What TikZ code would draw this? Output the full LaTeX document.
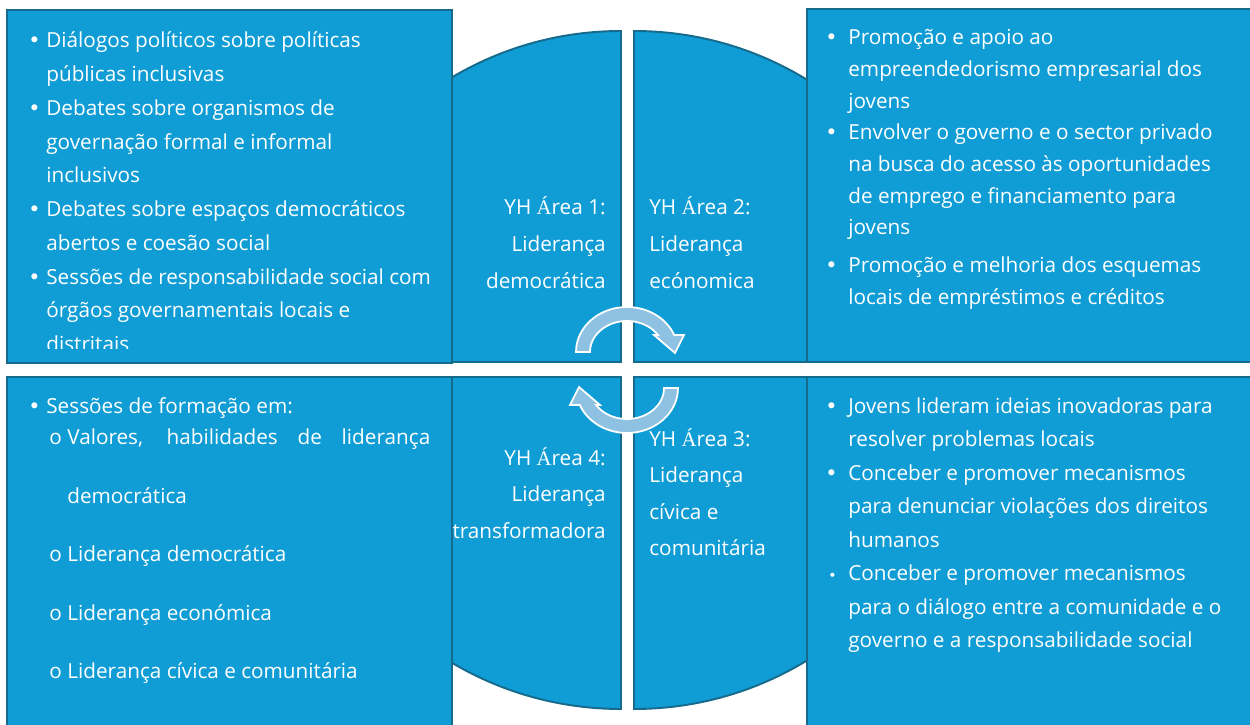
\documentclass[tikz,border=0pt]{standalone}
\usepackage{fontspec}
\setmainfont{Open Sans}
\newfontfamily\accfont{Liberation Serif}
\newfontfamily\dotfont{DejaVu Sans}
\definecolor{areablue}{RGB}{16,157,214}
\definecolor{areaedge}{RGB}{22,106,140}
\definecolor{cyclefill}{RGB}{143,193,226}
\newlength\bltw
\newcommand\Aacc{{\accfont Á}}
\newcommand\blt{\makebox[\bltw][l]{\hspace*{-0.08cm}{\dotfont\textbullet}}}
\newcommand\smallblt{\makebox[\bltw][l]{\hspace*{-0.02cm}{\dotfont\fontsize{8}{8}\selectfont\textbullet}}}
\newcommand\ind{\hspace*{\bltw}}
\newcommand\subblt{\hspace*{0.34cm}\makebox[0.36cm][l]{o}}
\newcommand\subind{\hspace*{0.70cm}}
\begin{document}
\begin{tikzpicture}[x=0.02cm,y=0.02cm,
    quarter/.style={fill=areablue,draw=areaedge,line width=1.1pt},
    panel/.style={fill=areablue,draw=areaedge,line width=1.1pt},
    cyclearrow/.style={fill=cyclefill,draw=white,line width=1pt},
    txt/.style={text=white,inner sep=0pt}]
  \useasboundingbox (0,0) rectangle (1250,724);
  % circle quarters
  \draw[quarter] (621,362) -- (290,362) arc[start angle=180,end angle=90,radius=331] -- cycle;
  \draw[quarter] (634,362) -- (634,693) arc[start angle=90,end angle=0,radius=331] -- cycle;
  \draw[quarter] (621,347) -- (289,347) arc[start angle=180,end angle=270,radius=332] -- cycle;
  \draw[quarter] (634,347) -- (634,15) arc[start angle=270,end angle=360,radius=332] -- cycle;
  % cycle arrows
  \path[cyclearrow] (576,372) arc[start angle=180,end angle=22,x radius=51,y radius=45]
    -- (684,389) -- (675,371) -- (654,389) -- (658,388.9)
    arc[start angle=33,end angle=180,x radius=37,y radius=31] -- cycle;
  \begin{scope}[rotate around={180:(627,354)}]
    \path[cyclearrow] (576,372) arc[start angle=180,end angle=22,x radius=51,y radius=45]
      -- (684,389) -- (675,371) -- (654,389) -- (658,388.9)
      arc[start angle=33,end angle=180,x radius=37,y radius=31] -- cycle;
  \end{scope}
  % panels
  \draw[panel] (7,714) rectangle (452,361);
  \draw[panel] (807,715) rectangle (1256,362);
  \draw[panel] (7,347) rectangle (452,-6);
  \draw[panel] (807,347) rectangle (1256,-6);
  % area labels
  \node[txt,anchor=base east,font={\fontsize{11.8}{20.8}\selectfont}] (dem) at (606,509)
    {\begin{tabular}[t]{@{}r@{}}YH \Aacc rea 1:\\ Liderança\\ democrática\end{tabular}};
  \node[txt,anchor=base west,font={\fontsize{11.8}{20.8}\selectfont}] (eco) at (649,509)
    {\begin{tabular}[t]{@{}l@{}}YH \Aacc rea 2:\\ Liderança\\ ecónomica\end{tabular}};
  \node[txt,anchor=base east,font={\fontsize{11.8}{20.8}\selectfont}] (trans) at (606,259)
    {\begin{tabular}[t]{@{}r@{}}YH \Aacc rea 4:\\ Liderança\\ transformadora\end{tabular}};
  \node[txt,anchor=base west,font={\fontsize{11.8}{20.8}\selectfont}] (civ) at (649,278)
    {\begin{tabular}[t]{@{}l@{}}YH \Aacc rea 3:\\ Liderança\\ cívica e\\ comunitária\end{tabular}};
  % panel texts
  \begin{scope}
    \clip (7,375) rectangle (452,714);
    \node[txt,anchor=base west,font={\fontsize{11.8}{19.2}\selectfont\setlength\bltw{0.28cm}}] (demlist) at (32,676)
      {\begin{tabular}[t]{@{}l@{}}
        \blt Diálogos políticos sobre políticas\\
        \ind públicas inclusivas\\
        \blt Debates sobre organismos de\\
        \ind governação formal e informal\\
        \ind inclusivos\\
        \blt Debates sobre espaços democráticos\\
        \ind abertos e coesão social\\
        \blt Sessões de responsabilidade social com\\
        \ind órgãos governamentais locais e\\
        \ind distritais
      \end{tabular}};
  \end{scope}
  \node[txt,anchor=base west,font={\fontsize{11.8}{18.0}\selectfont\setlength\bltw{0.38cm}}] (ecolist) at (829,679)
    {\begin{tabular}[t]{@{}l@{}}
      \blt Promoção e apoio ao\\
      \ind empreendedorismo empresarial dos\\
      \ind jovens\\
      \blt Envolver o governo e o sector privado\\
      \ind na busca do acesso às oportunidades\\
      \ind de emprego e financiamento para\\
      \ind jovens\\[0.126cm]
      \blt Promoção e melhoria dos esquemas\\
      \ind locais de empréstimos e créditos
    \end{tabular}};
  \node[txt,anchor=base west,font={\fontsize{11.8}{18.2}\selectfont\setlength\bltw{0.28cm}}] (translist) at (32,311)
    {\begin{tabular}[t]{@{}l@{}}
      \blt Sessões de formação em:\\
      \subblt\makebox[7.26cm][s]{Valores, habilidades de liderança}\\[0.53cm]
      \subind democrática\\[0.53cm]
      \subblt Liderança democrática\\[0.53cm]
      \subblt Liderança económica\\[0.53cm]
      \subblt Liderança cívica e comunitária
    \end{tabular}};
  \node[txt,anchor=base west,font={\fontsize{11.8}{19.1}\selectfont\setlength\bltw{0.38cm}}] (civlist) at (829,311)
    {\begin{tabular}[t]{@{}l@{}}
      \blt Jovens lideram ideias inovadoras para\\
      \ind resolver problemas locais\\
      \blt Conceber e promover mecanismos\\
      \ind para denunciar violações dos direitos\\
      \ind humanos\\
      \smallblt Conceber e promover mecanismos\\
      \ind para o diálogo entre a comunidade e o\\
      \ind governo e a responsabilidade social
    \end{tabular}};
\end{tikzpicture}
\end{document}
